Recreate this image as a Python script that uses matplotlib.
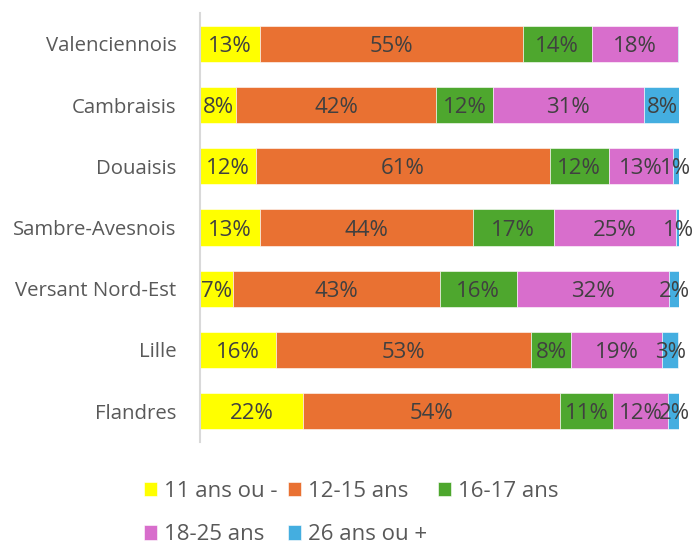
import matplotlib
matplotlib.use("Agg")
import matplotlib.pyplot as plt
import numpy as np

categories = ["Valenciennois", "Cambraisis", "Douaisis", "Sambre-Avesnois",
              "Versant Nord-Est", "Lille", "Flandres"]
series_names = ["11 ans ou -", "12-15 ans", "16-17 ans", "18-25 ans", "26 ans ou +"]
s_11 = [12.6, 7.6, 11.6, 12.6, 6.8, 15.8, 21.6]
s_12_15 = [54.8, 41.7, 61.4, 44.3, 43.2, 53.4, 53.6]
s_16_17 = [14.4, 11.9, 12.3, 17.0, 16.2, 8.3, 11.0]
s_18_25 = [18.0, 31.4, 13.4, 25.4, 31.8, 19.0, 11.6]
s_26 = [0.2, 7.7, 1.2, 1.0, 2.0, 3.3, 2.4]
colors = ["#FFFF00", "#E97132", "#4EA72E", "#D86ECC", "#44AEE0"]

plt.rcParams['font.family'] = ['Open Sans', 'DejaVu Sans']
FS_CAT = 14.7
FS_VAL = 16
FS_LEG = 16
fig = plt.figure(figsize=(6.94, 5.47), dpi=100)
ax = fig.add_axes([200/694, 1-441.6/547, 479/694, (441.6-13.4)/547])

data = [s_11, s_12_15, s_16_17, s_18_25, s_26]
y = np.arange(len(categories))
left = np.zeros(len(categories))
for name, vals, c in zip(series_names, data, colors):
    vals = np.array(vals)
    ax.barh(y, vals, left=left, height=0.59, color=c, label=name,
            edgecolor="white", linewidth=0.4)
    for yi, (l, v) in enumerate(zip(left, vals)):
        if v >= 0.5:
            ax.text(l + v/2, yi, f"{v:.0f}%", ha="center", va="center_baseline",
                    fontsize=FS_VAL, color="#404040")
    left += vals

ax.set_ylim(len(categories) - 0.5, -0.5)
ax.set_xlim(0, 100)
ax.set_yticks(y)
ax.set_yticklabels(categories, fontsize=FS_CAT, color="#595959")
for t in ax.get_yticklabels():
    t.set_verticalalignment("center_baseline")
ax.tick_params(axis="y", length=0, pad=17)
ax.set_xticks([])
for s in ["top", "right", "bottom"]:
    ax.spines[s].set_visible(False)
ax.spines["left"].set_color("#D9D9D9")
ax.spines["left"].set_linewidth(1.5)

handles, labels = ax.get_legend_handles_labels()
order = [0, 3, 1, 4, 2]
leg = fig.legend([handles[i] for i in order], [labels[i] for i in order],
                 loc="lower left", bbox_to_anchor=(144/694, 0.003),
                 ncol=3, frameon=False, fontsize=FS_LEG, labelcolor="#595959",
                 handlelength=0.6, handleheight=0.6, handletextpad=0.28,
                 columnspacing=0.5, labelspacing=1.0, borderpad=0,
                 borderaxespad=0)

fig.savefig("out.png", dpi=100)
